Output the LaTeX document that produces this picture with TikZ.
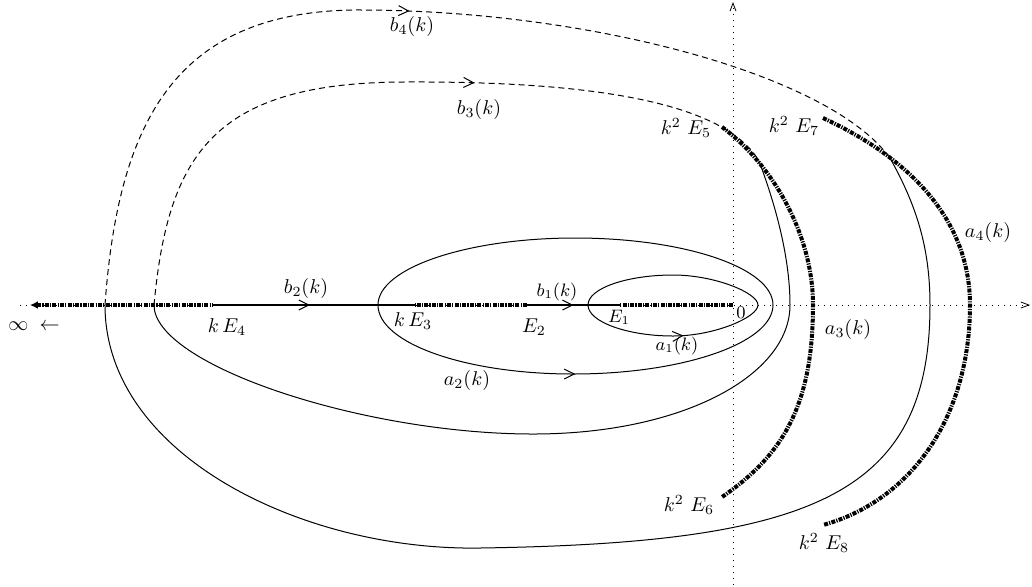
\documentclass[tikz,border=0pt]{standalone}
\usepackage{amsmath}
\usepackage{tikz}
\usetikzlibrary{arrows.meta,decorations.markings}

\begin{document}
\begin{tikzpicture}[
    x=0.5pt, y=0.5pt,
    axisline/.style={line width=0.4pt, dash pattern=on 0.5pt off 2.5pt,
      -{Straight Barb[length=4pt,width=3pt]}},
    branchcut/.style={line width=2pt, dash pattern=on 2pt off 0.6pt on 0.6pt off 0.6pt},
    bline/.style={line width=1pt},
    front/.style={line width=0.5pt},
    back/.style={line width=0.5pt, dash pattern=on 3pt off 2pt},
    midarrow/.style={postaction={decorate}, decoration={markings,
      mark=at position #1 with {\arrow{Straight Barb[length=5pt,width=5pt,line width=0.5pt]}}}},
    lbl/.style={inner sep=1pt},
    smalllbl/.style={inner sep=1pt, font=\small}
  ]
    \useasboundingbox (-733,-281) rectangle (299,305);

    % branch points on the real axis
    \coordinate (O) at (0,0);
    \coordinate (E1) at (-113,0);
    \coordinate (E2) at (-206,0);
    \coordinate (kE3) at (-318,0);
    \coordinate (kE4) at (-520,0);
    \coordinate (inf) at (-703,0);
    % ends of the other cuts
    \coordinate (E5) at (-11,178);
    \coordinate (E6) at (-11,-192);
    \coordinate (E7) at (90,187);
    \coordinate (E8) at (90,-220);

    % axes
    \draw[axisline] (-713,0) -- (297,0);
    \draw[axisline] (0,-280) -- (0,303);

    % cuts on the real axis
    \draw[branchcut] (O) -- (E1);
    \draw[bline, midarrow=0.5] (E2) -- (E1);
    \draw[branchcut] (E2) -- (kE3);
    \draw[bline, midarrow=0.48] (kE4) -- (kE3);
    \draw[branchcut, {Latex[length=4pt,width=4pt]}-] (inf) -- (kE4);

    % cuts k^2 E_5 -- k^2 E_6 and k^2 E_7 -- k^2 E_8
    \draw[branchcut] (E5) .. controls (40,140) and (80,70) .. (80,0)
      .. controls (80,-100) and (50,-150) .. (E6);
    \draw[branchcut] (E7) .. controls (170,150) and (237,90) .. (237,0)
      .. controls (237,-110) and (180,-195) .. (E8);

    % a_1 and a_2
    \draw[front, midarrow=0.56] (-145,0) .. controls +(0,-17) and +(-45,0) .. (-60,-31)
      .. controls +(42,0) and +(0,-12) .. (25,0);
    \draw[front] (25,0) .. controls +(0,12) and +(42,0) .. (-60,30)
      .. controls +(-45,0) and +(0,17) .. (-145,0);
    \draw[front, midarrow=0.5] (-355,0) .. controls +(0,-38) and +(-108,0) .. (-160,-69)
      .. controls +(110,0) and +(0,-38) .. (40,0);
    \draw[front] (40,0) .. controls +(0,37) and +(110,0) .. (-158,67)
      .. controls +(-108,0) and +(0,37) .. (-355,0);

    % loop through the cut E_5 E_6
    \draw[front] (26,144) .. controls +(15,-40) and +(0,50) .. (57,0)
      .. controls +(0,-70) and +(150,0) .. (-200,-129)
      .. controls +(-170,0) and +(0,-60) .. (-579,0);
    \draw[back, midarrow=0.6] (-579,0) .. controls (-565,150) and (-520,222) .. (-330,223)
      .. controls (-150,224) and (-10,205) .. (26,144);

    % loop through the cut E_7 E_8
    \draw[front] (157,147) .. controls +(25,-45) and +(0,60) .. (197,0)
      .. controls (197,-190) and (80,-238) .. (-253,-243)
      .. controls (-430,-246) and (-628,-150) .. (-628,0);
    \draw[back, midarrow=0.49] (-628,0) .. controls (-615,180) and (-560,292) .. (-380,295)
      .. controls (-150,296) and (95,232) .. (157,147);

    % labels
    \node[lbl] (linf) at (-699,-21) {$\infty\;\leftarrow$};
    \node[lbl] (lkE4) at (-506,-22) {$k\,E_4$};
    \node[lbl] (lb2) at (-427,17) {$b_2(k)$};
    \node[lbl] (lkE3) at (-320,-16) {$k\,E_3$};
    \node[lbl] (lE2) at (-199,-22) {$E_2$};
    \node[smalllbl] (lb1) at (-176,13) {$b_1(k)$};
    \node[smalllbl] (lE1) at (-114,-12) {$E_1$};
    \node[smalllbl] (lO) at (8,-8) {$0$};
    \node[smalllbl] (la1) at (-56,-41) {$a_1(k)$};
    \node[lbl] (la2) at (-266,-75) {$a_2(k)$};
    \node[lbl] (la3) at (115,-24) {$a_3(k)$};
    \node[lbl] (la4) at (255,73) {$a_4(k)$};
    \node[lbl] (lb3) at (-254,196) {$b_3(k)$};
    \node[lbl] (lb4) at (-321,279) {$b_4(k)$};
    \node[lbl] (lE5) at (-47,177) {$k^2\ E_5$};
    \node[lbl] (lE7) at (61,179) {$k^2\ E_7$};
    \node[lbl] (lE6) at (-44,-200) {$k^2\ E_6$};
    \node[lbl] (lE8) at (91,-238) {$k^2\ E_8$};
\end{tikzpicture}
\end{document}
